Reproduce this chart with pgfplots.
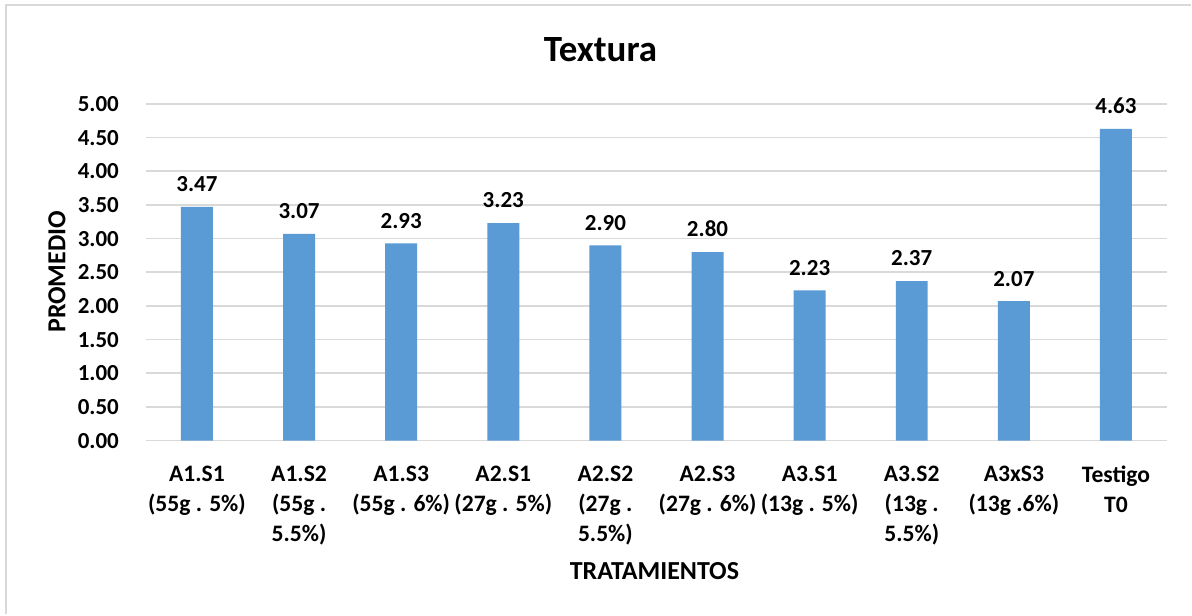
\documentclass[border=0pt]{standalone}
\usepackage{fontspec}
\setmainfont{Carlito}
\usepackage{pgfplots}
\pgfplotsset{compat=1.18}
\definecolor{barblue}{HTML}{5B9BD5}
\definecolor{gridgray}{HTML}{D9D9D9}
\definecolor{framegray}{HTML}{D9D9D9}
\begin{document}
\begin{tikzpicture}[x=0.5pt,y=0.5pt]
  % page and chart frame
  \fill[white] (0,0) rectangle (1192,615);
  \draw[framegray, line width=1pt] (6,0) -- (6,610) -- (1192,610);
  \begin{axis}[
    at={(73pt,87pt)}, anchor=south west,
    scale only axis,
    width=511pt, height=168.5pt,
    xmin=-0.5, xmax=9.5,
    ymin=0, ymax=5,
    ytick={0,0.5,...,5},
    ymajorgrids,
    grid style={gridgray, line width=0.8pt},
    axis line style={draw=none},
    axis x line*=bottom,
    x axis line style={gridgray, line width=0.8pt},
    axis y line*=left,
    y axis line style={draw=none},
    major tick length=0pt,
    tick style={draw=none},
    yticklabel style={
      /pgf/number format/fixed,
      /pgf/number format/fixed zerofill,
      /pgf/number format/precision=2,
      /pgf/number format/assume math mode=true,
      font=\fontsize{11.5}{12}\selectfont\bfseries,
      xshift=-10pt},
    xtick=data,
    xticklabels={
      {A1.S1\\(55g . 5\%)},
      {A1.S2\\(55g .\\5.5\%)},
      {A1.S3\\(55g . 6\%)},
      {A2.S1\\(27g . 5\%)},
      {A2.S2\\(27g .\\5.5\%)},
      {A2.S3\\(27g . 6\%)},
      {A3.S1\\(13g . 5\%)},
      {A3.S2\\(13g .\\5.5\%)},
      {A3xS3\\(13g .6\%)},
      {Testigo\\T0}},
    xticklabel style={
      align=center,
      font=\fontsize{11.8}{15}\selectfont\bfseries,
      yshift=-9pt},
    ybar,
    bar width=16pt,
    nodes near coords,
    nodes near coords style={
      /pgf/number format/fixed,
      /pgf/number format/fixed zerofill,
      /pgf/number format/precision=2,
      /pgf/number format/assume math mode=true,
      font=\fontsize{11.5}{12}\selectfont\bfseries,
      text=black, yshift=4pt},
    clip=false,
  ]
    \addplot[fill=barblue, draw=none] coordinates {
      (0,3.47) (1,3.07) (2,2.93) (3,3.23) (4,2.90)
      (5,2.80) (6,2.23) (7,2.37) (8,2.07) (9,4.63)
    };
  \end{axis}
  % titles
  \node[font=\fontsize{18.5}{22}\selectfont\bfseries] at (601,565) {Textura};
  \node[font=\fontsize{13}{15}\selectfont\bfseries] at (655,43) {TRATAMIENTOS};
  \node[font=\fontsize{13}{15}\selectfont\bfseries, rotate=90] at (57,343) {PROMEDIO};
\end{tikzpicture}
\end{document}
